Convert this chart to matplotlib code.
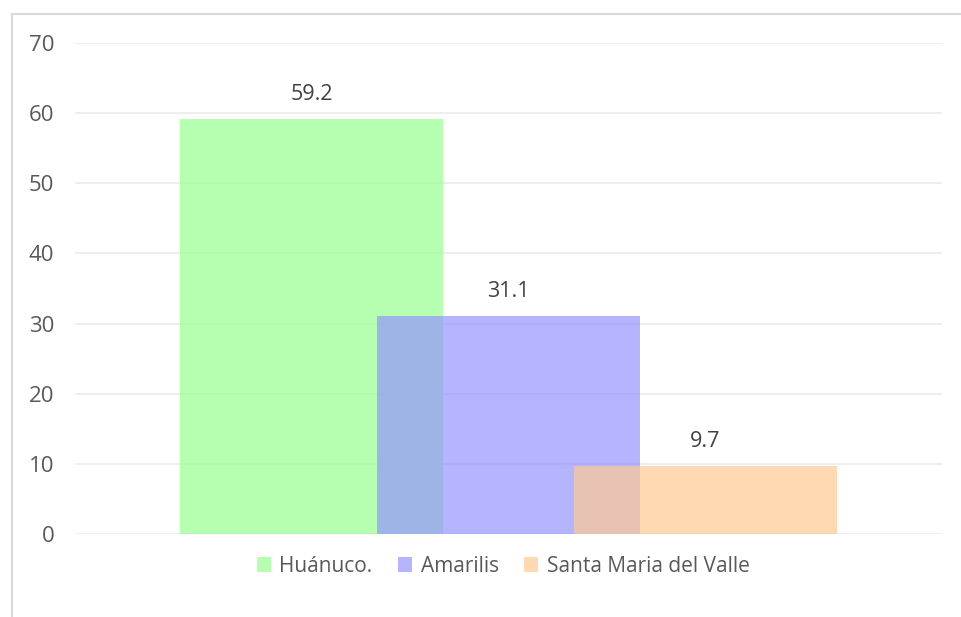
import matplotlib.pyplot as plt
from matplotlib.patches import Rectangle

# data
series = ["Huánuco.", "Amarilis", "Santa Maria del Valle"]
values = [59.2, 31.1, 9.7]
colors = ["#98FF91", "#9595FF", "#FFC992"]
yticks = [0, 10, 20, 30, 40, 50, 60, 70]

plt.rcParams['font.family'] = ['Open Sans', 'DejaVu Sans']

W, H = 961, 617
fig = plt.figure(figsize=(W / 100, H / 100), dpi=100)

# outer chart border (only top and left visible in reference)
fig.patches.append(Rectangle((12 / W, -0.1), 1.2, (H - 14) / H + 0.1,
                             transform=fig.transFigure, fill=False,
                             edgecolor="#D9D9D9", linewidth=1.5))

ax = fig.add_axes([75 / W, 1 - 534 / H, (942 - 75) / W, (534 - 43) / H])

width = 0.3033
offsets = [-0.227, 0.0, 0.227]
for name, v, c, off in zip(series, values, colors, offsets):
    ax.bar(off, v, width=width, color=c, alpha=0.7, label=name, zorder=2,
           linewidth=0)
    ax.text(off, v + 2.0, f"{v:.1f}", ha="center", va="bottom",
            fontsize=15.5, color="#404040", zorder=3)

ax.set_xlim(-0.5, 0.5)
ax.set_ylim(0, 70)
ax.set_yticks(yticks)
ax.set_xticks([])
ax.grid(axis="y", color="#EBEBEB", linewidth=1.2, zorder=0)
for s in ax.spines.values():
    s.set_visible(False)
ax.tick_params(axis="y", length=0, pad=15, labelsize=16, labelcolor="#595959")

leg = fig.legend(loc="center", bbox_to_anchor=(503 / W, 1 - 566 / H),
                 ncol=3, frameon=False, fontsize=15, handlelength=0.7,
                 handleheight=0.7, handletextpad=0.4, columnspacing=1.2)
for t in leg.get_texts():
    t.set_color("#595959")

fig.savefig("out.png", dpi=100)
